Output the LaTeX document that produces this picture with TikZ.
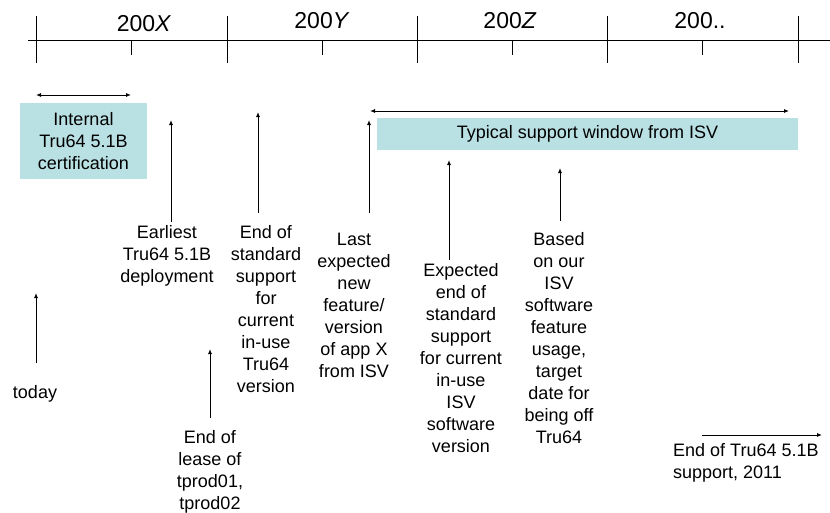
\documentclass[tikz,border=0pt]{standalone}
\usepackage{fontspec}
\setmainfont{Liberation Sans}
\usetikzlibrary{arrows.meta}
\definecolor{boxfill}{RGB}{185,224,227}
\begin{document}
\begin{tikzpicture}[x=1pt,y=-1pt,
  ln/.style={line width=0.9pt, draw=black},
  arr/.style={ln, -{Latex[length=5pt,width=4pt]}},
  darr/.style={ln, {Latex[length=5pt,width=4pt]}-{Latex[length=5pt,width=4pt]}},
  lbl/.style={inner sep=0pt, align=center, font=\fontsize{18}{22}\selectfont},
  yr/.style={inner sep=0pt, anchor=base, font=\fontsize{23}{27}\selectfont},
  band/.style={fill=boxfill, draw=none, inner sep=0pt, align=center, font=\fontsize{18}{22}\selectfont}]
\useasboundingbox (0,0) rectangle (830,512);

% timeline
\draw[ln] (28,40) -- (830,40);
\foreach \x in {36,227,417,607,798} \draw[ln] (\x,16) -- (\x,63);
\foreach \x in {131,322,512,702} \draw[ln] (\x,40) -- (\x,55);
\node[yr] (yx) at (144,31) {200\textit{X}};
\node[yr] (yy) at (322,28) {200\textit{Y}};
\node[yr] (yz) at (510,28) {200\textit{Z}};
\node[yr] (yd) at (700,28) {200..};

% bands
\node[band, minimum width=127pt, minimum height=76pt] (internal) at (83.5,141) {Internal\\Tru64 5.1B\\certification};
\coordinate (ia) at (36,95);
\coordinate (ib) at (131,95);
\draw[darr] (ia) -- (ib);

\node[band, minimum width=421pt, minimum height=32pt] (typical) at (587.5,134) {Typical support window from ISV};
\coordinate (ta) at (370,111);
\coordinate (tb) at (789,111);
\draw[darr] (ta) -- (tb);

% events
\node[lbl, anchor=north] (earliest) at (167,225) {Earliest\\Tru64 5.1B\\deployment};
\coordinate (earliestT) at (171,120);
\draw[arr] ([yshift=3pt]earliest.north -| earliestT) -- (earliestT);

\node[lbl, anchor=north] (endstd) at (266,225) {End of\\standard\\support\\for\\current\\in-use\\Tru64\\version};
\coordinate (endstdT) at (258,112);
\draw[arr] ([yshift=12pt]endstd.north -| endstdT) -- (endstdT);

\node[lbl, anchor=north] (last) at (354,233) {Last\\expected\\new\\feature/\\version\\of app X\\from ISV};
\coordinate (lastT) at (369,120);
\draw[arr] ([yshift=20pt]last.north -| lastT) -- (lastT);

\node[lbl, anchor=north] (expected) at (461,263) {Expected\\end of\\standard\\support\\for current\\in-use\\ISV\\software\\version};
\coordinate (expectedT) at (449,160);
\draw[arr] ([yshift=3pt]expected.north -| expectedT) -- (expectedT);

\node[lbl, anchor=north] (based) at (559,232) {Based\\on our\\ISV\\software\\feature\\usage,\\target\\date for\\being off\\Tru64};
\coordinate (basedT) at (560,168);
\draw[arr] ([yshift=11pt]based.north -| basedT) -- (basedT);

\node[lbl, anchor=north] (today) at (35,385) {today};
\coordinate (todayT) at (36,293);
\draw[arr] ([yshift=22pt]today.north -| todayT) -- (todayT);

\node[lbl, anchor=north] (lease) at (210,430) {End of\\lease of\\tprod01,\\tprod02};
\coordinate (leaseT) at (210,349);
\draw[arr] ([yshift=12pt]lease.north -| leaseT) -- (leaseT);

\node[lbl, anchor=north west, align=left] (eot) at (673,443) {End of Tru64 5.1B\\support, 2011};
\coordinate (eotT) at (822,435);
\draw[arr] ([xshift=29pt,yshift=8pt]eot.north west) -- (eotT);
\end{tikzpicture}
\end{document}
